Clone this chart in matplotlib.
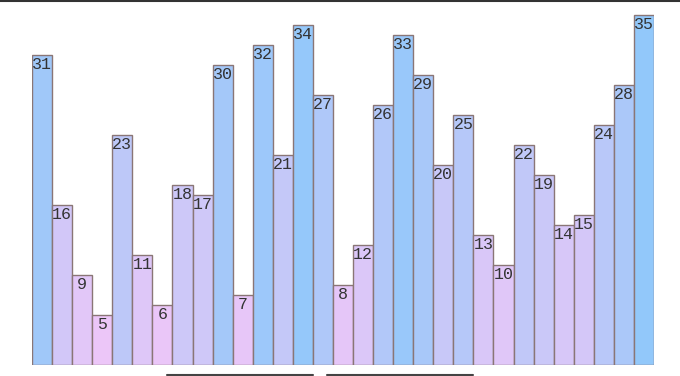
import matplotlib
matplotlib.use("Agg")
import matplotlib.pyplot as plt
import numpy as np
from matplotlib.colors import LinearSegmentedColormap
from matplotlib.lines import Line2D

values = [31, 16, 9, 5, 23, 11, 6, 18, 17, 30, 7, 32, 21, 34, 27, 8, 12, 26,
          33, 29, 20, 25, 13, 10, 22, 19, 14, 15, 24, 28, 35]
labels = [str(v) for v in values]

W, H = 680, 376
fig = plt.figure(figsize=(W / 100, H / 100), dpi=100)
ax = fig.add_axes([32 / W, 11 / H, 622 / W, 365 / H])

cmap = LinearSegmentedColormap.from_list("pb", ["#ecc6f8", "#c8c8f8", "#92c8fa"])
vmin, vmax = min(values), max(values)
colors = [cmap((v - vmin) / (vmax - vmin)) for v in values]

x = np.arange(len(values))
ax.bar(x, values, width=1.0, color=colors, edgecolor="#8a7676", linewidth=1.0)
ax.set_xlim(-0.5, len(values) - 0.5)
ax.set_ylim(0, 36.5)
ax.axis("off")

for xi, v, lab in zip(x, values, labels):
    ax.annotate(lab, (xi, v), xytext=(0, -10.2), textcoords="offset points",
                ha="center", va="baseline", fontsize=12, color="#333333",
                family="Liberation Mono")

fig.add_artist(Line2D([0, 1], [1 - 0.8 / H, 1 - 0.8 / H], transform=fig.transFigure,
                      color="#333333", linewidth=1.5))
for x0, x1 in [(167, 313), (327, 473)]:
    fig.add_artist(Line2D([x0 / W, x1 / W], [1.2 / H, 1.2 / H], transform=fig.transFigure,
                          color="#444444", linewidth=1.5, solid_capstyle="round"))

fig.savefig("out.png", dpi=100)
